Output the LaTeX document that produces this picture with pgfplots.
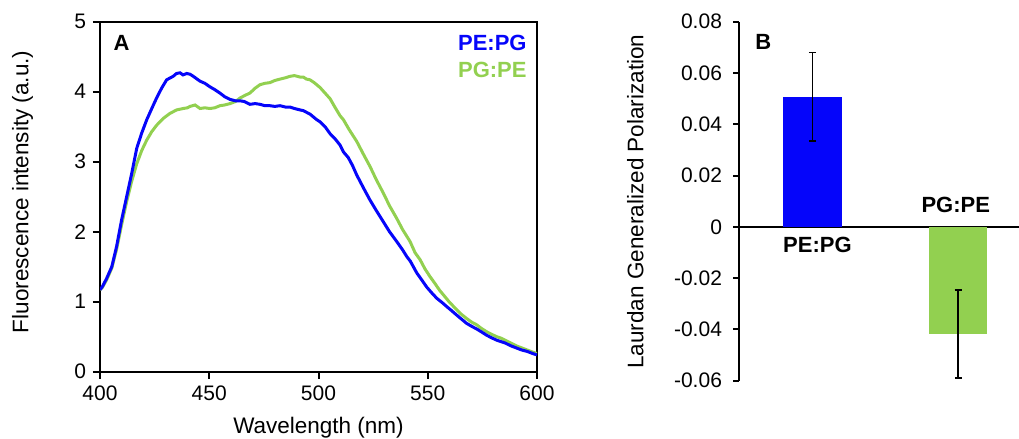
\documentclass[border=0pt]{standalone}
\usepackage{fontspec}
\setmainfont{Liberation Sans}
\usepackage{pgfplots}
\pgfplotsset{compat=1.18}
\definecolor{peblue}{RGB}{5,5,250}
\definecolor{pggreen}{RGB}{146,208,80}

% emission spectra
\pgfplotstableread{
x y
400 1.17
401 1.21
403 1.33
405.4 1.50
407.6 1.79
409.9 2.17
412.2 2.50
414.5 2.83
416.8 3.19
419.1 3.41
421.4 3.60
423.7 3.76
425.9 3.91
428.2 4.05
430.5 4.17
433.5 4.22
435 4.26
436.6 4.27
438 4.24
439.7 4.26
441.2 4.25
442.7 4.22
444 4.19
445.8 4.15
448 4.12
450.3 4.07
452.5 4.03
454.9 3.98
457 3.93
459.5 3.89
462 3.87
464.1 3.87
466 3.86
468.6 3.82
471 3.83
473.2 3.82
475.5 3.80
477.8 3.80
480 3.79
482.4 3.80
485 3.78
487 3.78
489 3.76
491.5 3.74
493 3.73
496.1 3.68
499.2 3.60
500.7 3.57
503 3.50
505.3 3.40
507.5 3.33
509.8 3.24
511.4 3.14
513.6 3.06
515.5 2.95
517.5 2.81
520.5 2.63
523.6 2.45
526.5 2.30
529.7 2.14
532.5 2.00
535.8 1.86
538.5 1.74
540.5 1.64
542 1.58
545 1.41
547.5 1.30
549.5 1.21
552 1.12
554.1 1.05
556.5 0.99
558.7 0.93
561 0.87
563.2 0.81
565.5 0.75
567.8 0.69
570 0.65
572.4 0.61
574.5 0.57
577 0.52
579.5 0.48
581.6 0.45
583.5 0.43
585.4 0.41
588 0.37
590.5 0.34
593 0.31
595.5 0.29
598 0.26
600 0.24
}\pepg

\pgfplotstableread{
x y
400 1.17
401 1.20
403 1.31
405.4 1.48
407.6 1.75
409.9 2.10
412.2 2.43
414.5 2.72
416.8 2.97
419.1 3.16
421.4 3.31
423.7 3.43
425.9 3.52
429 3.62
432 3.69
435.1 3.74
438.1 3.76
440 3.77
441.2 3.79
443.5 3.81
445.8 3.76
448 3.77
450.3 3.76
452.5 3.77
454.9 3.80
457 3.81
459.5 3.83
462 3.86
464.1 3.91
466.5 3.95
468.6 3.98
471 4.05
473.2 4.10
475.5 4.12
477.8 4.13
480 4.16
482.4 4.18
485 4.20
487 4.22
489 4.23
491.5 4.21
493 4.21
494.5 4.18
496.1 4.17
498 4.13
500.7 4.06
503 3.98
505.3 3.90
507.5 3.78
509.8 3.66
511.4 3.60
514 3.46
517.5 3.29
520.5 3.11
523.6 2.93
526.5 2.74
529.7 2.55
532.5 2.37
535.8 2.19
538.5 2.03
541.9 1.86
544.2 1.70
546.5 1.60
548.7 1.47
551 1.36
553.3 1.26
555.5 1.16
557.9 1.07
560 0.99
562.5 0.91
565 0.83
567.8 0.76
570 0.71
572.4 0.67
574.5 0.62
577 0.57
579.5 0.53
581.6 0.50
583.5 0.48
585.4 0.45
588 0.41
590.5 0.37
593 0.34
595.5 0.31
598 0.28
600 0.26
}\pgpe

\begin{document}
\begin{tikzpicture}[lbl/.style={font=\bfseries\fontsize{11}{13}\selectfont, inner sep=0pt}]

% --- panel A ---
\begin{axis}[
    at={(50pt,33.65pt)}, anchor=south west,
    scale only axis, width=218.5pt, height=175pt,
    xmin=400, xmax=600, ymin=0, ymax=5,
    xtick={400,450,500,550,600}, ytick={0,1,2,3,4,5},
    tick align=outside, tick pos=left,
    major tick length=3.5pt,
    axis line style={line width=1pt},
    tick style={black, line width=1pt},
    tick label style={font=\fontsize{10.5}{12}\selectfont},
    /pgf/number format/assume math mode=true,
    xlabel={Wavelength (nm)},
    ylabel={Fluorescence intensity (a.u.)},
    label style={font=\fontsize{11.25}{13}\selectfont},
    xlabel style={at={(axis description cs:0.5,-0.161)}, anchor=center},
    ylabel style={at={(axis description cs:-0.177,0.514)}, anchor=center},
]
\addplot[pggreen, line width=1.5pt, no marks] table[x=x, y=y] {\pgpe};
\addplot[peblue, line width=1.5pt, no marks] table[x=x, y=y] {\pepg};
\node[lbl, anchor=west] at (rel axis cs:0.03,0.939) {A};
\node[lbl, anchor=east, text=peblue] at (rel axis cs:0.977,0.939) {PE:PG};
\node[lbl, anchor=east, text=pggreen] at (rel axis cs:0.977,0.862) {PG:PE};
\end{axis}

% --- panel B ---
\begin{axis}[
    at={(369.5pt,29.15pt)}, anchor=south west,
    scale only axis, width=140pt, height=179.5pt,
    xmin=0.4955, xmax=2.417, ymin=-0.06, ymax=0.08,
    axis x line=middle, axis y line=left,
    axis line style={-, line width=1pt},
    xtick=\empty,
    ytick={-0.06,-0.04,-0.02,0,0.02,0.04,0.06,0.08},
    scaled y ticks=false,
    tick align=outside,
    major tick length=3pt,
    tick style={black, line width=1pt},
    tick label style={font=\fontsize{10.5}{12}\selectfont},
    /pgf/number format/assume math mode=true,
    yticklabel style={xshift=-2pt, /pgf/number format/fixed, /pgf/number format/precision=2},
    ylabel={Laurdan Generalized Polarization},
    label style={font=\fontsize{11.25}{13}\selectfont},
    ylabel style={at={(axis description cs:-0.37,0.499)}, anchor=center},
    ybar, bar width=29.2pt, bar shift=0pt,
]
\addplot[fill=peblue, draw=none,
    error bars/.cd, y dir=both, y explicit,
    error bar style={black, line width=0.75pt},
    error mark options={rotate=90, black, line width=0.75pt, mark size=1.8pt}]
    coordinates {(1,0.0507) +- (0,0.0172)};
\addplot[fill=pggreen, draw=none,
    error bars/.cd, y dir=both, y explicit,
    error bar style={black, line width=0.75pt},
    error mark options={rotate=90, black, line width=0.75pt, mark size=1.8pt}]
    coordinates {(2,-0.0418) +- (0,0.0171)};
\node[lbl, anchor=west] at (rel axis cs:0.057,0.944) {B};
\node[lbl] at (axis cs:1.034,-0.0071) {PE:PG};
\node[lbl] at (axis cs:1.983,0.0085) {PG:PE};
\end{axis}

\pgfresetboundingbox
\path (0,0) rectangle (509.5pt,219.5pt);
\end{tikzpicture}
\end{document}
